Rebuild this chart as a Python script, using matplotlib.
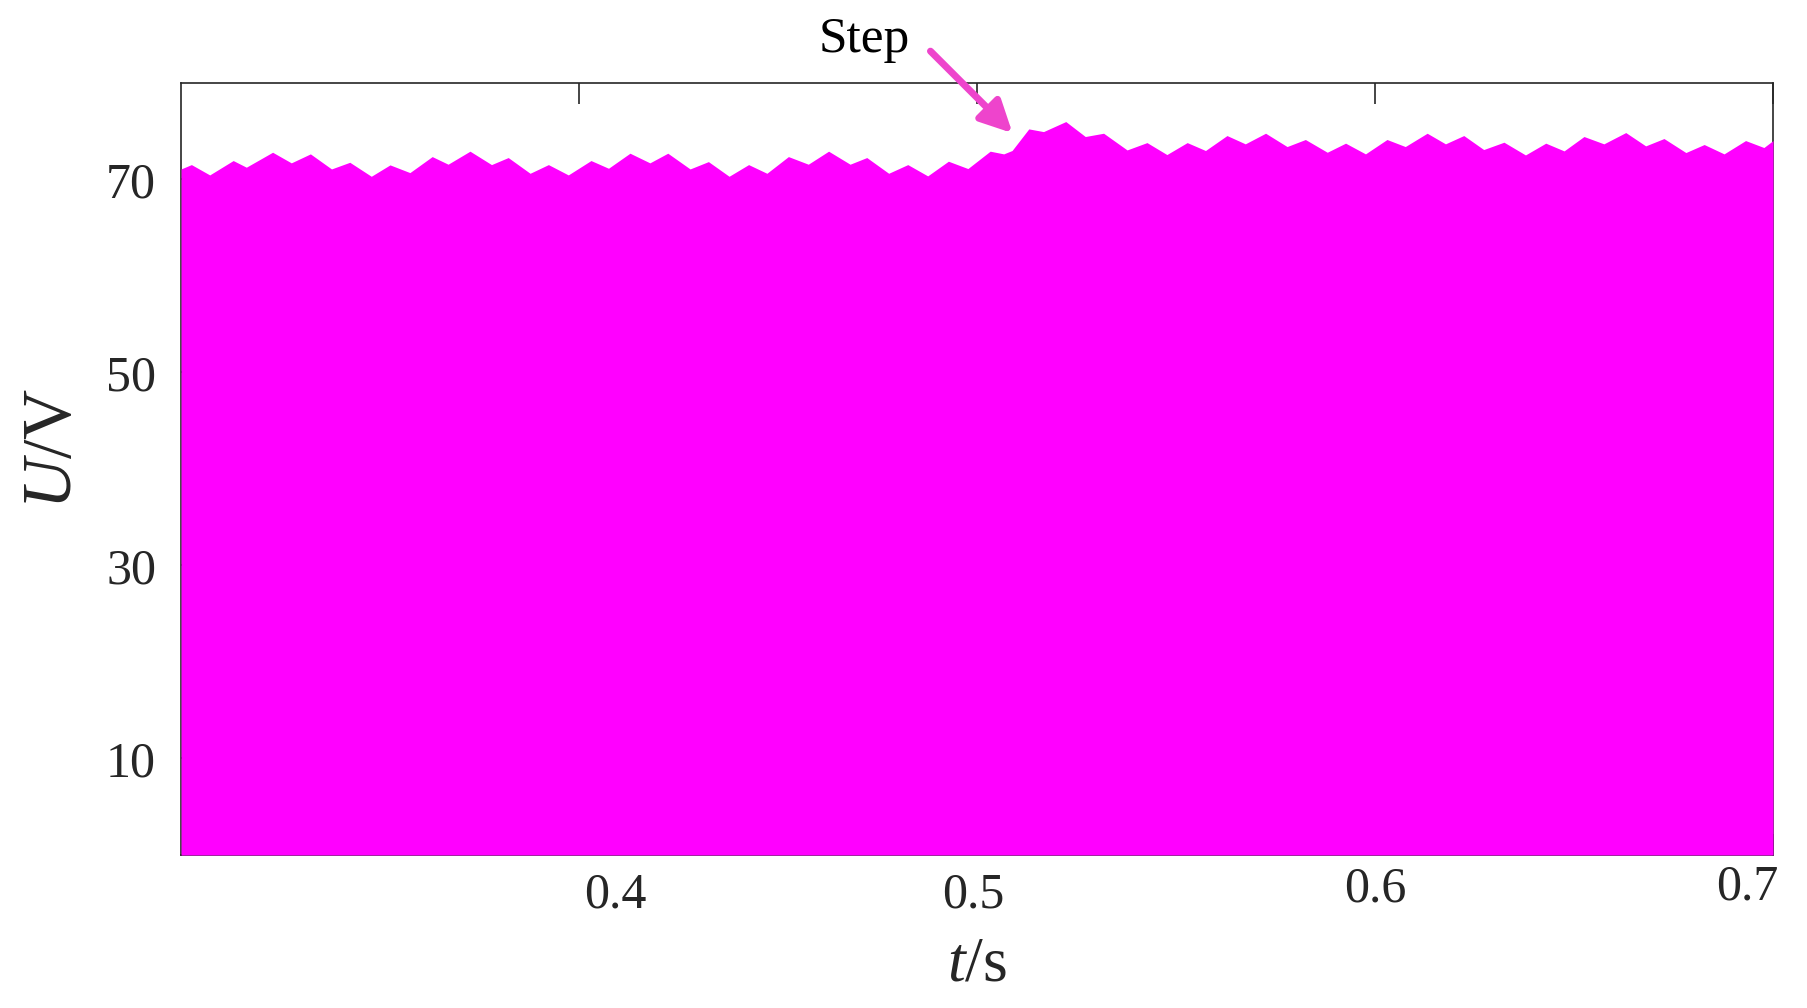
import numpy as np
import matplotlib
matplotlib.use('Agg')
import matplotlib.pyplot as plt
import matplotlib.transforms as mtransforms

# upper envelope of the voltage (peaks / troughs)
t = [0.3000, 0.3026, 0.3072, 0.3131, 0.3164, 0.3230, 0.3277, 0.3325, 0.3378, 0.3424,
     0.3478, 0.3525, 0.3575, 0.3631, 0.3671, 0.3726, 0.3780, 0.3822, 0.3877, 0.3923,
     0.3973, 0.4030, 0.4074, 0.4128, 0.4178, 0.4223, 0.4279, 0.4325, 0.4377, 0.4426,
     0.4472, 0.4526, 0.4576, 0.4627, 0.4681, 0.4723, 0.4778, 0.4826, 0.4876, 0.4928,
     0.4977, 0.5033, 0.5067, 0.5088, 0.5130, 0.5167, 0.5223, 0.5272, 0.5318, 0.5377,
     0.5427, 0.5477, 0.5528, 0.5574, 0.5628, 0.5674, 0.5725, 0.5779, 0.5825, 0.5880,
     0.5926, 0.5976, 0.6030, 0.6076, 0.6131, 0.6177, 0.6223, 0.6273, 0.6324, 0.6378,
     0.6429, 0.6475, 0.6525, 0.6575, 0.6630, 0.6680, 0.6726, 0.6781, 0.6827, 0.6877,
     0.6931, 0.6977, 0.7000]
u = [71.09, 71.54, 70.47, 71.96, 71.27, 72.82, 71.72, 72.65, 71.09, 71.78,
     70.33, 71.51, 70.71, 72.37, 71.58, 72.93, 71.54, 72.27, 70.64, 71.54,
     70.47, 71.96, 71.16, 72.72, 71.72, 72.72, 71.09, 71.85, 70.33, 71.54,
     70.64, 72.37, 71.58, 72.93, 71.58, 72.27, 70.64, 71.54, 70.37, 71.89,
     71.13, 72.93, 72.65, 73.00, 75.24, 74.96, 76.00, 74.45, 74.79, 73.06,
     73.82, 72.58, 73.82, 73.00, 74.55, 73.69, 74.79, 73.41, 74.14, 72.82,
     73.76, 72.65, 74.14, 73.41, 74.79, 73.69, 74.55, 73.10, 73.86, 72.54,
     73.76, 72.96, 74.45, 73.69, 74.86, 73.48, 74.24, 72.79, 73.62, 72.65,
     74.03, 73.31, 74.03]

xticks = [0.4, 0.5, 0.6, 0.7]
yticks = [10, 30, 50, 70]

plt.rcParams['font.family'] = ['Liberation Serif', 'DejaVu Serif']
plt.rcParams['mathtext.fontset'] = 'custom'
plt.rcParams['mathtext.rm'] = 'Liberation Serif'
plt.rcParams['mathtext.it'] = 'Liberation Serif:italic'

dark = '#262626'
fig = plt.figure(figsize=(18.07, 10.08), dpi=100)
ax = fig.add_axes([0.1002, 0.1518, 0.8810, 0.7659])

ax.fill_between(t, 0, u, color='#ff00ff', lw=0, zorder=3)

ax.set_xlim(0.3, 0.7)
ax.set_ylim(0, 80)
ax.set_xticks(xticks)
ax.set_xticklabels(['0.4', '0.5', '0.6', '0.7'])
ax.set_yticks(yticks)
ax.tick_params(direction='in', length=15, width=1.2, colors=dark,
               labelsize=36, top=True, right=True, pad=12)
ax.tick_params(axis='y', pad=18)
for sp in ax.spines.values():
    sp.set_color(dark)
    sp.set_linewidth(1.2)

# the tick labels in the original sit a bit off their ticks
shifts = {'0.4': (0.36, 0.0), '0.5': (-0.04, 0.0), '0.7': (-0.26, 0.08), '0.6': (0.0, 0.06)}
for lab in ax.get_xticklabels():
    dx, dy = shifts.get(lab.get_text(), (0, 0))
    lab.set_transform(lab.get_transform() + mtransforms.ScaledTranslation(dx, dy, fig.dpi_scale_trans))

ax.set_xlabel('$t$/s', fontsize=46, color=dark)
ax.set_ylabel('$U$/V', fontsize=50, color=dark)
ax.xaxis.set_label_coords(0.5, -0.105)
ax.yaxis.set_label_coords(-0.060, 0.526)

ax.annotate('', xy=(0.5094, 74.6), xytext=(0.4878, 83.5),
            arrowprops=dict(arrowstyle='-|>', color='#ee44cc', lw=5, mutation_scale=48),
            annotation_clip=False, zorder=5)
ax.text(0.4717, 84.5, 'Step', fontsize=37, ha='center', va='center', color='black', clip_on=False)

fig.savefig('out.png', dpi=100)
